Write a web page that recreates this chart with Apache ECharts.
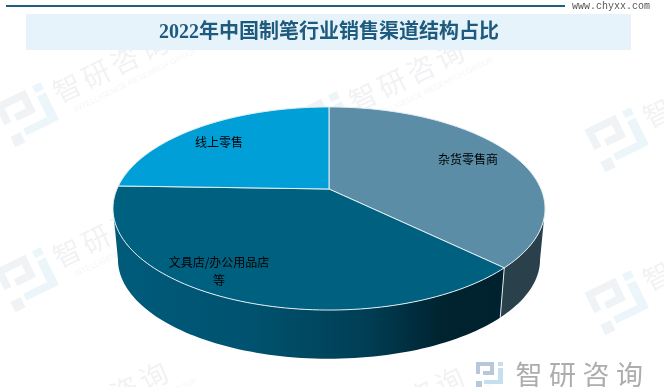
<!DOCTYPE html>
<html><head><meta charset="utf-8">
<style>html,body{margin:0;padding:0;background:#fff}#c{width:664px;height:387px}</style>
<script src="https://cdn.jsdelivr.net/npm/echarts@6/dist/echarts.min.js"></script>
</head><body><div id="c"></div>
<script>
var categories = ['杂货零售商', '文具店/办公用品店\n等', '线上零售'];
var shares = [37.3, 38.2, 24.5];
var topColors = ['#5b8da6', '#00607f', '#009fd7'];
var labelPoints = [[468, 159], [219, 271], [219, 142]];
var titleText = '2022年中国制笔行业销售渠道结构占比';
var siteText = 'www.chyxx.com';
var brandChars = ['智', '研', '咨', '询'];
var brandEn = 'INTELLIGENCE RESEARCH GROUP';
var tiles = [[28,115],[28,280],[28,445],[324,124],[324,287],[324,450],[618,140],[618,303]];

var CX = 329, CY = 189, RX = 212, RY = 97.8, K = 0.192;
var BOTTOM_CY = 240.5, BOTTOM_S = 0.977;
function project(deg, scale, cy) {
  var a = deg * Math.PI / 180, u = Math.sin(a), v = -Math.cos(a), d = 1 - K * v;
  return [CX + scale * RX * u / d, cy + scale * RY * v / d];
}
function arc(from, to, scale, cy) {
  var pts = [], n = Math.max(2, Math.ceil(Math.abs(to - from) / 1.5));
  for (var i = 0; i <= n; i++) pts.push(project(from + (to - from) * i / n, scale, cy));
  return pts;
}
var total = shares.reduce(function (a, b) { return a + b; }, 0);
var bounds = [0];
shares.forEach(function (s, i) { bounds.push(bounds[i] + s / total * 360); });
var VIS_A = 180 - Math.acos(K) * 180 / Math.PI, VIS_B = 360 - VIS_A;

function wallFill(i) {
  if (i === 0) return '#2a404b';
  return new echarts.graphic.LinearGradient(118, 0, 500, 0, [
    { offset: 0, color: '#005b7b' },
    { offset: 0.35, color: '#00526f' },
    { offset: 0.65, color: '#003e54' },
    { offset: 0.85, color: '#00232f' },
    { offset: 1, color: '#00222e' }
  ], true);
}
function renderItem(params, api) {
  var i = params.dataIndex, a = bounds[i], b = bounds[i + 1], kids = [];
  var wa = Math.max(a, VIS_A), wb = Math.min(b, VIS_B);
  if (wb > wa) {
    var wall = arc(wa, wb, 1, CY).concat(arc(wb, wa, BOTTOM_S, BOTTOM_CY));
    kids.push({ type: 'polygon', shape: { points: wall }, style: { fill: wallFill(i) }, z2: 1 });
    if (a >= VIS_A) {
      kids.push({ type: 'polyline', shape: { points: [project(a, 1, CY), project(a, BOTTOM_S, BOTTOM_CY)] },
        style: { stroke: '#dfe9ee', lineWidth: 1, fill: null }, z2: 5 });
    }
  }
  var top = [[CX, CY]].concat(arc(a, b, 1, CY));
  kids.push({ type: 'polygon', shape: { points: top },
    style: { fill: topColors[i], stroke: '#e4eef3', lineWidth: 1, lineJoin: 'round' }, z2: 3 });
  kids.push({ type: 'text', z2: 10, style: {
    text: categories[i], x: labelPoints[i][0], y: labelPoints[i][1], align: 'center', verticalAlign: 'middle',
    fill: '#000', font: '12px "Noto Sans CJK SC"', lineHeight: 18 } });
  return { type: 'group', children: kids };
}

var logoGrey = [[0,0,18,4],[0,4,4,8],[14,4,4,9],[7,9,7,4],[0,19,6,6]];
var logoBlue = [[22,0,5,4],[22,6,5,16],[8,18,14,4]];
function logoChildren(scale, greyC, blueC) {
  var out = [];
  logoGrey.forEach(function (r) { out.push({ type: 'rect', shape: { x: r[0]*scale, y: r[1]*scale, width: r[2]*scale, height: r[3]*scale }, style: { fill: greyC } }); });
  logoBlue.forEach(function (r) { out.push({ type: 'rect', shape: { x: r[0]*scale, y: r[1]*scale, width: r[2]*scale, height: r[3]*scale }, style: { fill: blueC } }); });
  return out;
}
var graphics = [];
var ROT = 26 * Math.PI / 180;
tiles.forEach(function (t) {
  var kids = logoChildren(1.9, '#f0f3f6', '#ebf5fa').map(function (c) {
    c.shape.x -= 25.6; c.shape.y -= 24; return c;
  });
  brandChars.forEach(function (ch, j) {
    kids.push({ type: 'text', style: { text: ch, x: 47 + j * 32, y: -7, align: 'center', verticalAlign: 'middle',
      fill: '#f1f2f4', font: '28px "Noto Sans CJK SC"' } });
  });
  kids.push({ type: 'text', style: { text: brandEn, x: 44, y: 16, align: 'left', verticalAlign: 'middle',
    fill: '#f4f5f6', font: '8px "Liberation Sans"' } });
  graphics.push({ type: 'group', x: t[0], y: t[1], rotation: ROT, z: 0, children: kids });
});
graphics.push({ type: 'rect', z: 1, shape: { x: 26, y: 14, width: 605, height: 36 }, style: { fill: '#e6f3fa' } });
graphics.push({ type: 'rect', z: 1, shape: { x: 6, y: 5, width: 559, height: 2 }, style: { fill: '#1d5f7e' } });
graphics.push({ type: 'text', z: 2, style: { text: siteText, x: 572, y: 6, align: 'left', verticalAlign: 'middle',
  fill: '#555', font: '10px "Liberation Mono"' } });
graphics.push({ type: 'text', z: 2, style: { text: titleText, x: 329, y: 33, align: 'center', verticalAlign: 'middle',
  fill: '#1d5a7d', font: 'bold 20px "Liberation Serif","Noto Sans CJK SC"' } });
graphics.push({ type: 'group', x: 476, y: 362, z: 2, children: logoChildren(1, '#b9c7dc', '#c5dfee') });
brandChars.forEach(function (ch, j) {
  graphics.push({ type: 'text', z: 2, style: { text: ch, x: 529 + j * 33.5, y: 375, align: 'center', verticalAlign: 'middle',
    fill: '#adadad', font: '27px "Noto Sans CJK SC"' } });
});

var chart = echarts.init(document.getElementById('c'), null, { renderer: 'canvas' });
chart.setOption({
  animation: false,
  backgroundColor: '#fff',
  graphic: { elements: graphics },
  series: [{
    type: 'custom', coordinateSystem: 'none', z: 5,
    renderItem: renderItem,
    data: shares.map(function (v, i) { return { name: categories[i], value: [v] }; })
  }]
});
</script></body></html>
